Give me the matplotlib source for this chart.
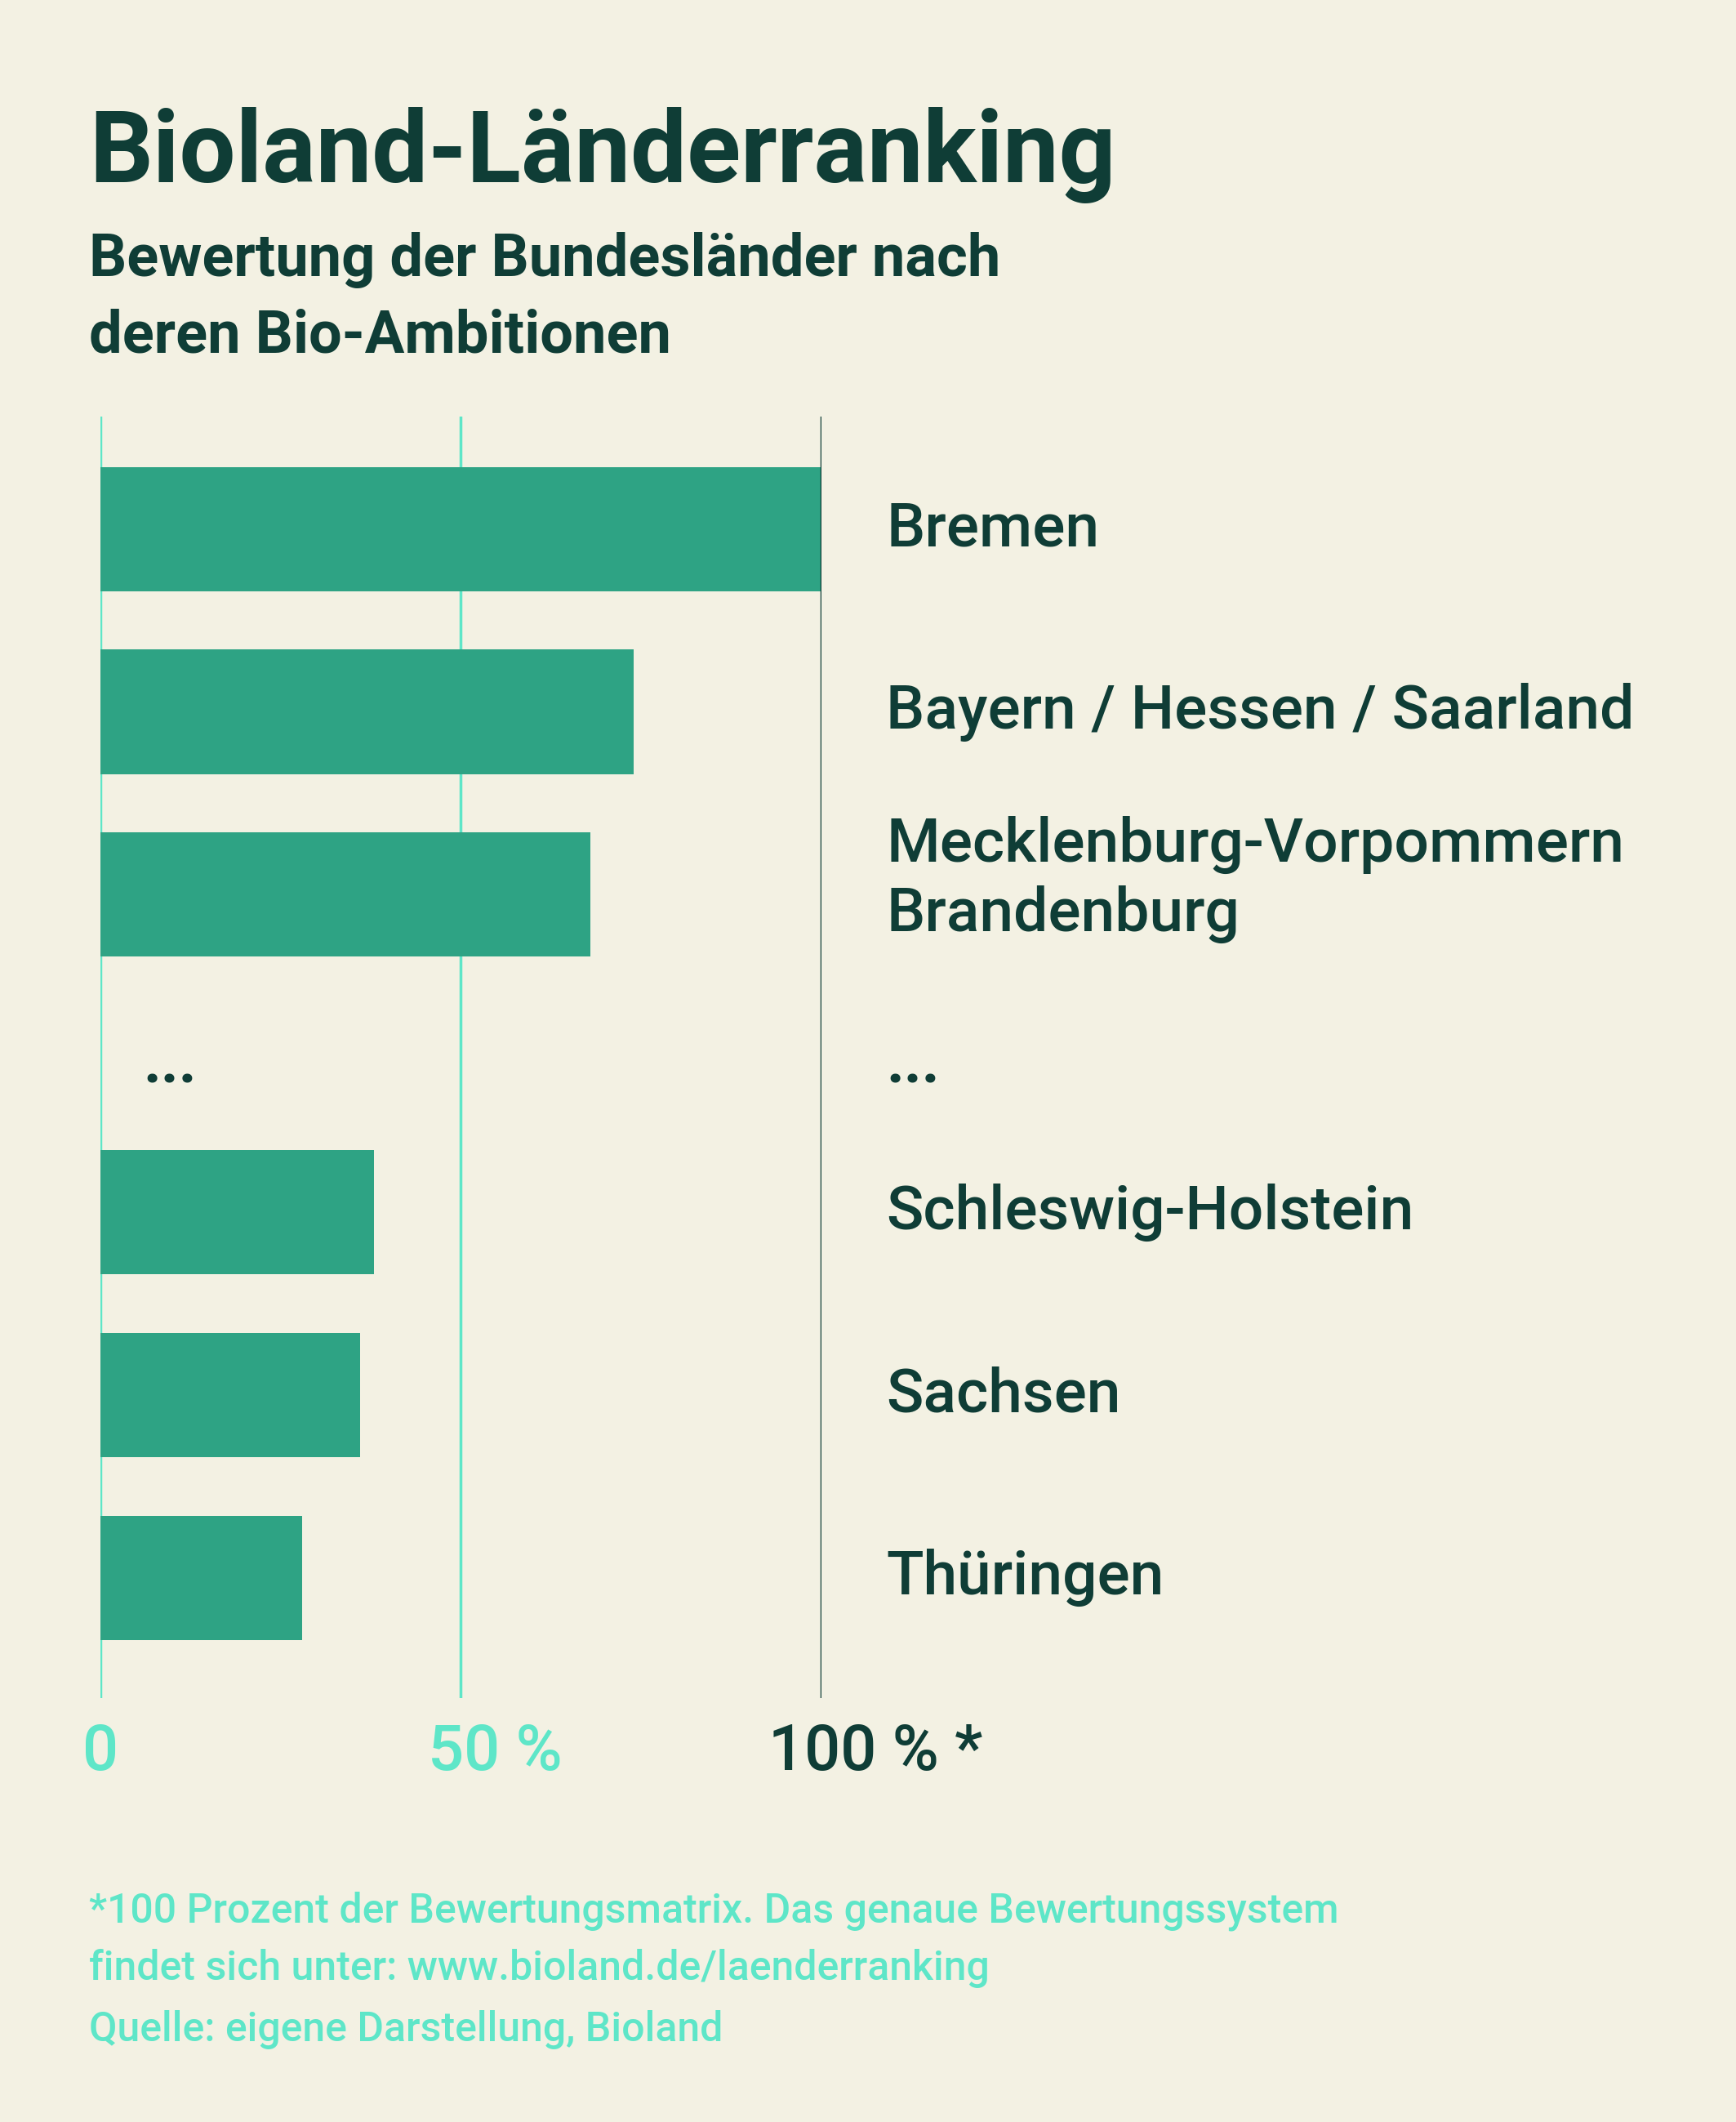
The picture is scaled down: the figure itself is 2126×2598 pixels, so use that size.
import matplotlib.pyplot as plt

# data
labels = ["Bremen", "Bayern / Hessen / Saarland", "Mecklenburg-Vorpommern\nBrandenburg",
          "Schleswig-Holstein", "Sachsen", "Thüringen"]
values = [100, 74, 68, 38, 36, 28]
rows = [0, 1, 2, 3.74, 4.74, 5.74]
dots_row = 2.94

BG = "#f3f1e3"
BAR = "#2ea384"
DARK = "#0f3d36"
LIGHT = "#5ee6c8"
FONT = ["Roboto", "DejaVu Sans"]

fig = plt.figure(figsize=(21.26, 25.98), dpi=100, facecolor=BG)
ax = fig.add_axes([0.0577, 0.1996, 0.4154, 0.604])
ax.set_facecolor("none")
ax.barh(rows, values, height=0.68, color=BAR, zorder=2)
ax.set_xlim(0, 100)
ax.set_ylim(6.4, -0.615)
for s in ax.spines.values():
    s.set_visible(False)
ax.set_xticks([])
ax.set_yticks([])
ax.axvline(0, color=LIGHT, lw=2.5, zorder=1)
ax.axvline(50, color=LIGHT, lw=2.5, zorder=1)
ax.axvline(100, color=DARK, lw=2.5, zorder=3)

for r, lab in zip(rows, labels):
    if "\n" in lab:
        ax.text(109, r - 0.08, lab, va="center", ha="left", fontsize=54, color=DARK,
                family=FONT, fontweight="medium", linespacing=1.25, clip_on=False)
    else:
        ax.text(109, r, lab, va="center", ha="left", fontsize=54, color=DARK,
                family=FONT, fontweight="medium", clip_on=False)
ax.text(6, dots_row, "...", va="center", ha="left", fontsize=54, color=DARK, family=FONT, fontweight="bold")
ax.text(109, dots_row, "...", va="center", ha="left", fontsize=54, color=DARK, family=FONT, fontweight="bold")

tick_y = 0.166
for xv, txt, col, ha in [(0, "0", LIGHT, "center"), (45.4, "50 %", LIGHT, "left"),
                         (92.7, "100 % *", DARK, "left")]:
    xf = 0.0577 + 0.4154 * xv / 100
    fig.text(xf, tick_y, txt, ha=ha, va="baseline", fontsize=56, color=col, family=FONT, fontweight="medium")

fig.text(0.0514, 0.914, "Bioland-Länderranking", fontsize=88, fontweight="bold", color=DARK, family=FONT)
fig.text(0.0514, 0.870, "Bewertung der Bundesländer nach", fontsize=52, fontweight="bold", color=DARK, family=FONT)
fig.text(0.0514, 0.834, "deren Bio-Ambitionen", fontsize=52, fontweight="bold", color=DARK, family=FONT)

notes = ["*100 Prozent der Bewertungsmatrix. Das genaue Bewertungssystem",
         "findet sich unter: www.bioland.de/laenderranking",
         "Quelle: eigene Darstellung, Bioland"]
for yv, n in zip([0.094, 0.067, 0.038], notes):
    fig.text(0.0514, yv, n, fontsize=36, fontweight="medium", color=LIGHT, family=FONT)

fig.savefig("out.png", dpi=100, facecolor=BG)
